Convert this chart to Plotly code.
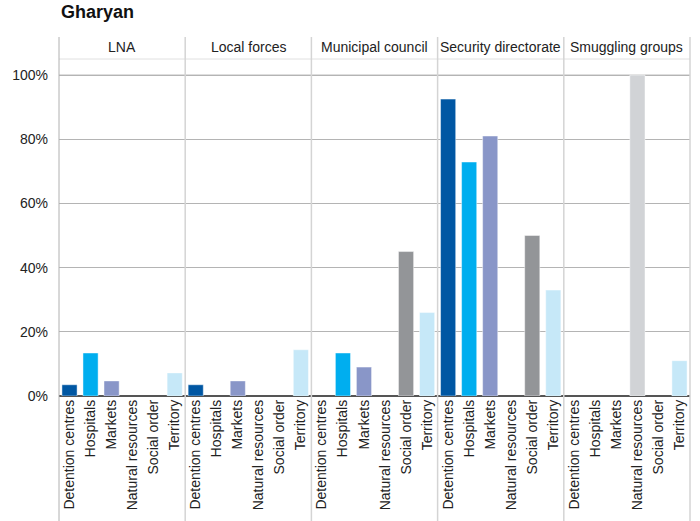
import plotly.graph_objects as go
from plotly.subplots import make_subplots

title = "Gharyan"
actors = ["LNA", "Local forces", "Municipal council", "Security directorate", "Smuggling groups"]
categories = ["Detention centres", "Hospitals", "Markets", "Natural resources", "Social order", "Territory"]
colors = ["#0057a3", "#00aeef", "#8996c8", "#d1d3d6", "#939598", "#c6e8f8"]
y_ticks = [0, 20, 40, 60, 80, 100]
y_tick_labels = ["0%", "20%", "40%", "60%", "80%", "100%"]

lna = [3.5, 13.4, 4.7, 0, 0, 7.2]
local_forces = [3.5, 0, 4.7, 0, 0, 14.4]
municipal_council = [0, 13.4, 9, 0, 45, 26]
security_directorate = [92.5, 72.9, 81, 0, 50, 33]
smuggling_groups = [0, 0, 0, 100, 0, 11]
values = [lna, local_forces, municipal_council, security_directorate, smuggling_groups]

W, H = 700, 521
L, R, T, B = 59, 10, 59, 125
ph = H - T - B

fig = make_subplots(rows=1, cols=5, shared_yaxes=True, horizontal_spacing=0)
for i, vals in enumerate(values):
    yv = [v if v else None for v in vals]
    fig.add_trace(go.Bar(x=categories, y=yv, marker=dict(color=colors, line=dict(color="rgba(255,255,255,0.45)", width=1)),
                         width=0.72, showlegend=False), row=1, col=i + 1)
    fig.update_xaxes(type="category", categoryarray=categories, categoryorder="array", tickangle=-90,
                     tickfont=dict(family="Liberation Sans", size=14, color="#222"), showgrid=False,
                     showline=False, ticks="", row=1, col=i + 1)

fig.update_yaxes(range=[0, 105], tickmode="array", tickvals=y_ticks, ticktext=y_tick_labels,
                 gridcolor="#b4b4b4", gridwidth=1, zeroline=True, zerolinecolor="#555555", zerolinewidth=1.5,
                 showline=False, tickfont=dict(family="Liberation Sans", size=14, color="#222"))
fig.update_yaxes(ticklabelstandoff=10, row=1, col=1)

def py(pix):
    return (H - B - pix) / ph

shapes = []
shapes.append(dict(type="line", xref="paper", yref="y", x0=0, x1=1, y0=100, y1=100,
                   line=dict(color="#dedede", width=2), layer="below"))
shapes.append(dict(type="line", xref="paper", yref="paper", x0=0, x1=1, y0=1, y1=1,
                   line=dict(color="#e0e0e0", width=1)))
for k in range(6):
    col = "#b0b0b0" if k == 0 else "#d4d4d4"
    shapes.append(dict(type="line", xref="paper", yref="paper", x0=k / 5, x1=k / 5, y0=py(H), y1=py(37),
                       line=dict(color=col, width=1.5 if k else 1)))
fig.update_layout(shapes=shapes)

annotations = [dict(text="<b>" + title + "</b>", xref="paper", yref="paper", x=0, y=py(12), xanchor="left",
                    yanchor="middle", showarrow=False, font=dict(family="Liberation Sans", size=18, color="#111"))]
for i, a in enumerate(actors):
    annotations.append(dict(text=a, xref="paper", yref="paper", x=(i + 0.5) / 5, y=py(47), xanchor="center",
                            yanchor="middle", showarrow=False, font=dict(family="Liberation Sans", size=14, color="#222")))
fig.update_layout(annotations=annotations)

fig.update_layout(width=W, height=H, margin=dict(l=L, r=R, t=T, b=B), plot_bgcolor="white", paper_bgcolor="white",
                  bargap=0.28, font=dict(family="Liberation Sans"))
fig.write_html("out.html")
